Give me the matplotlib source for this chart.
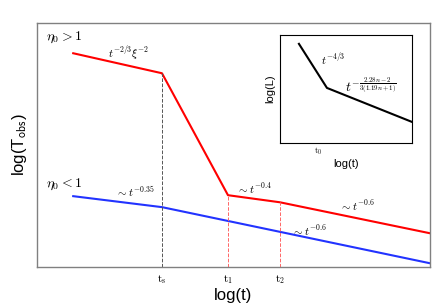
import numpy as np
import matplotlib
matplotlib.use('Agg')
import matplotlib.pyplot as plt

plt.rcParams['mathtext.fontset'] = 'cm'
plt.rcParams['font.family'] = 'Liberation Sans'

# break points in log(t) / log(T_obs) units
red_x = [0.92, 3.18, 4.86, 6.18, 10.0]
red_y = [8.77, 7.95, 2.95, 2.66, 1.39]
blue_x = [0.92, 3.18, 10.0]
blue_y = [2.91, 2.46, 0.16]
tick_pos = [3.18, 4.86, 6.18]
tick_lab = ['$\\mathrm{t_s}$', '$\\mathrm{t_1}$', '$\\mathrm{t_2}$']

# inset light curve
ins_x = [1.44, 3.56, 10.0]
ins_y = [9.17, 5.09, 1.94]
ins_tick = [2.88]

fig = plt.figure(figsize=(4.36, 3.06), dpi=100)
ax = fig.add_axes([0.085, 0.127, 0.901, 0.797])
ax.set_xlim(0, 10)
ax.set_ylim(0, 10)
for s in ax.spines.values():
    s.set_color('#808080')
    s.set_linewidth(1.0)

ax.plot(red_x, red_y, color='red', lw=1.5)
ax.plot(blue_x, blue_y, color='#2233ff', lw=1.5)

# dashed guide lines
ax.plot([tick_pos[0]] * 2, [0, red_y[1]], ls='--', color='#555555', lw=0.7)
ax.plot([tick_pos[1]] * 2, [0, red_y[2]], ls='--', color='#ff6666', lw=0.7)
ax.plot([tick_pos[2]] * 2, [0, red_y[3]], ls='--', color='#ff6666', lw=0.7)

ax.set_xticks(tick_pos)
ax.set_xticklabels(tick_lab, fontsize=8)
ax.tick_params(axis='x', length=0, pad=4)
ax.set_yticks([])
ax.set_xlabel('log(t)', fontsize=12, labelpad=2)
ax.set_ylabel('log(T$_{\\mathsf{obs}}$)', fontsize=12, labelpad=6)

ax.text(0.22, 9.3, '$\\eta_0 > 1$', fontsize=10)
ax.text(1.8, 8.6, '$t^{-2/3}\\xi^{-2}$', fontsize=8)
ax.text(0.22, 3.3, '$\\eta_0 < 1$', fontsize=10)
ax.text(2.0, 2.9, '$\\sim t^{-0.35}$', fontsize=8)
ax.text(5.1, 3.0, '$\\sim t^{-0.4}$', fontsize=8)
ax.text(7.7, 2.3, '$\\sim t^{-0.6}$', fontsize=8)
ax.text(6.5, 1.3, '$\\sim t^{-0.6}$', fontsize=8)

# inset
ia = fig.add_axes([0.642, 0.533, 0.303, 0.353])
ia.set_xlim(0, 10)
ia.set_ylim(0, 10)
ia.plot(ins_x, ins_y, color='black', lw=1.5)
ia.set_xticks(ins_tick)
ia.set_xticklabels(['$\\mathrm{t_0}$'], fontsize=6)
ia.tick_params(axis='x', length=0, pad=2)
ia.set_yticks([])
ia.set_xlabel('log(t)', fontsize=8, labelpad=1)
ia.set_ylabel('log(L)', fontsize=8, labelpad=3)
ia.text(3.1, 7.3, '$t^{-4/3}$', fontsize=8)
ia.text(4.9, 4.7, '$t^{-\\frac{2.28n-2}{3(1.19n+1)}}$', fontsize=10)

fig.savefig('out.png', dpi=100)
